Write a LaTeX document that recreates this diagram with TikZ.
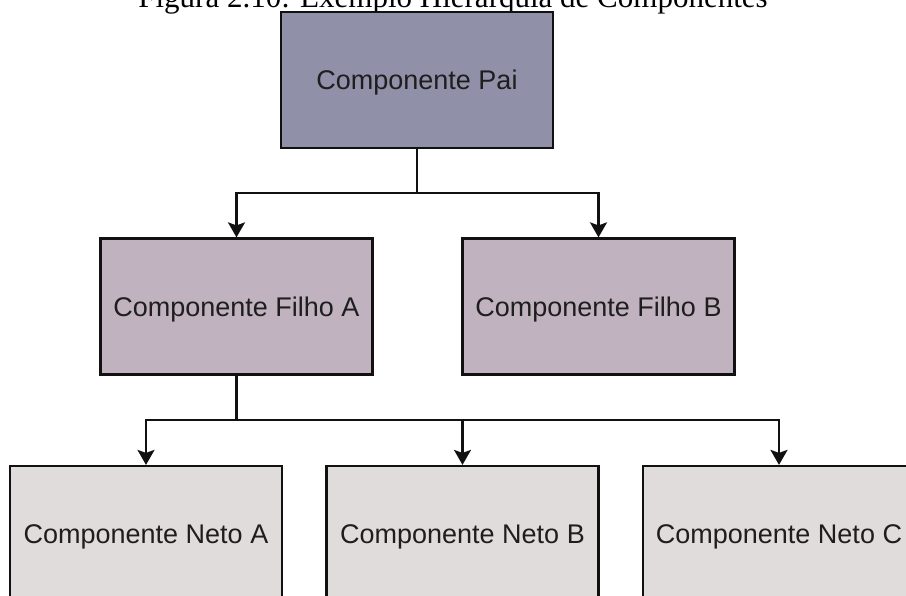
\documentclass[tikz,border=0pt]{standalone}
\usepackage{fontspec}
\setmainfont{Liberation Serif}
\setsansfont{Liberation Sans}
\usetikzlibrary{arrows.meta}
\definecolor{paifill}{HTML}{9090A8}
\definecolor{filhofill}{HTML}{C1B2BF}
\definecolor{netofill}{HTML}{E1DCDC}
\definecolor{boxtext}{HTML}{1E1E1E}
\definecolor{edge}{HTML}{111111}

\begin{document}
\begin{tikzpicture}[x=1pt,y=-1pt,
  comp/.style={draw=edge, line width=2.2pt, minimum width=272pt, minimum height=136pt,
    inner sep=0pt, text height=19.5pt, text depth=0pt,
    font=\sffamily\fontsize{27}{32}\selectfont, text=boxtext},
  link/.style={draw=edge, line width=2.2pt, -{Stealth[length=15pt,width=17pt,inset=3pt]}},
  caption/.style={font=\rmfamily\fontsize{31}{36}\selectfont, anchor=base, inner sep=0pt},
]
\clip (0,0) rectangle (906,596);

% caption
\node[caption] (title) at (453,7.5) {Figura 2.10: Exemplo Hierarquia de Componentes};

% hierarchy
\node[comp, fill=paifill]   (pai) at (417,80)      {Componente Pai};
\node[comp, fill=filhofill] (fa)  at (236.5,306.5) {Componente Filho A};
\node[comp, fill=filhofill] (fb)  at (598.5,306.5) {Componente Filho B};
\node[comp, fill=netofill]  (na)  at (146,534)     {Componente Neto A};
\node[comp, fill=netofill]  (nb)  at (462.5,534)   {Componente Neto B};
\node[comp, fill=netofill]  (nc)  at (779,534)     {Componente Neto C};

% junctions
\coordinate (j1) at (417,193);
\coordinate (j2) at (236.5,420);

\draw[link] (pai.south) -- (j1) -| (fa.north);
\draw[link] (pai.south) -- (j1) -| (fb.north);
\draw[link] (fa.south) -- (j2) -| (na.north);
\draw[link] (fa.south) -- (j2) -| (nb.north);
\draw[link] (fa.south) -- (j2) -| (nc.north);
\end{tikzpicture}
\end{document}
